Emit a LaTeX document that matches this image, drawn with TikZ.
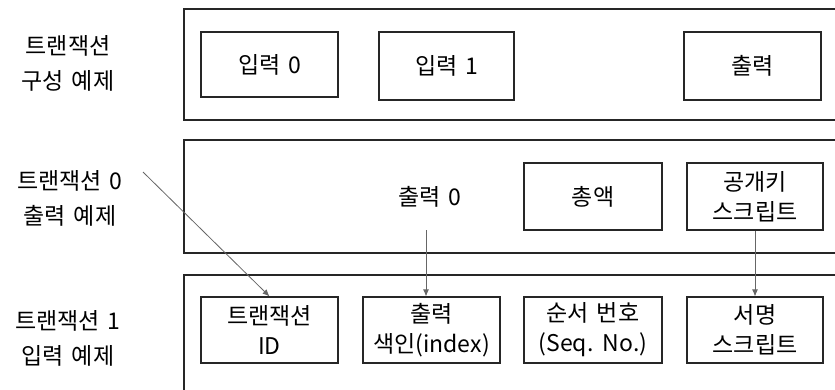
\documentclass[tikz,border=0pt]{standalone}
\usepackage{fontspec}
\setmainfont[WordSpace=1.5]{Noto Sans CJK KR}
\usetikzlibrary{arrows.meta}
\begin{document}
\begin{tikzpicture}[x=1pt,y=-1pt,
  outerbox/.style={draw=black!85,line width=1.2pt},
  itembox/.style={draw=black!85,line width=1.2pt,rectangle,inner sep=0pt,align=center,font=\fontsize{23}{30}\selectfont},
  lbl/.style={align=center,font=\fontsize{23}{35}\selectfont,inner sep=0pt},
  arr/.style={draw=black!60,line width=0.8pt,-{Latex[length=7pt,width=6pt]}}]
\useasboundingbox (0,0) rectangle (835,389);
\fill[white] (0,0) rectangle (835,389);
% outer boxes
\draw[outerbox] (850,9) -- (184,9) -- (184,120) -- (850,120);
\draw[outerbox] (850,140) -- (184,140) -- (184,253) -- (850,253);
\draw[outerbox] (850,275) -- (184,275) -- (184,400);
% left labels
\node[lbl] (l1) at (68,63) {트랜잭션\\구성 예제};
\node[lbl] (l2) at (70,198) {트랜잭션 0\\출력 예제};
\node[lbl] (l3) at (68,338) {트랜잭션 1\\입력 예제};
% row 1
\node[itembox,minimum width=137pt,minimum height=65pt] (in0) at (269.5,64.5) {입력 0};
\node[itembox,minimum width=135pt,minimum height=68pt] (in1) at (446.5,66) {입력 1};
\node[itembox,minimum width=137pt,minimum height=68pt] (out) at (752.5,66) {출력};
% row 2
\node[lbl,font=\fontsize{23}{30}\selectfont] (o0) at (430,197) {출력 0};
\node[itembox,minimum width=138pt,minimum height=67pt] (amt) at (593,196.5) {총액};
\node[itembox,minimum width=136pt,minimum height=67pt] (pk) at (755,196.5) {공개키\\스크립트};
% row 3
\node[itembox,minimum width=137pt,minimum height=66pt] (tid) at (269.5,330) {트랜잭션\\ID};
\node[itembox,minimum width=137pt,minimum height=66pt] (idx) at (431.5,330) {출력\\색인(index)};
\node[itembox,minimum width=138pt,minimum height=66pt] (seq) at (593,330) {순서 번호\\(Seq. No.)};
\node[itembox,minimum width=136pt,minimum height=66pt] (sig) at (755,330) {서명\\스크립트};
% connectors
\coordinate (a0) at (426,230);
\coordinate (dstart) at (143,172);
\draw[arr] (a0) -- (a0 |- idx.north);
\draw[arr] (pk.south) -- (sig.north);
\draw[arr] (dstart) -- (tid.north);
\end{tikzpicture}
\end{document}
